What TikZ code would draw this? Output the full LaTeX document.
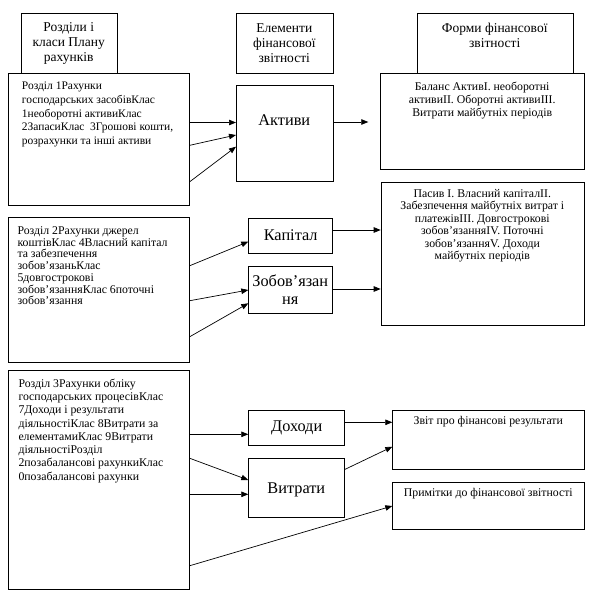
\documentclass[tikz,border=0pt]{standalone}
\usepackage{fontspec}
\setmainfont{Liberation Serif}
\usetikzlibrary{arrows.meta}
\begin{document}
\begin{tikzpicture}[x=1pt,y=-1pt,
  box/.style={draw, line width=0.8pt, fill=white, inner sep=0pt, anchor=north west},
  txt/.style={inner sep=0pt},
  arr/.style={-{Triangle[length=7pt,width=5.5pt]}, line width=0.7pt},
  hdr/.style={txt, align=center, font=\fontsize{13.5}{15}\selectfont},
  body/.style={txt, anchor=north west, align=left},
  elem/.style={txt, align=center, font=\fontsize{16.3}{18.3}\selectfont},
  form/.style={txt, align=center, anchor=north, font=\fontsize{11.8}{13}\selectfont}]
\path[use as bounding box] (0,0) rectangle (597,599);
% headers
\node[box, minimum width=96pt, minimum height=60pt] (h1) at (20.7,13.3) {};
\node[box, minimum width=96.7pt, minimum height=59.4pt] (h2) at (236,13.3) {};
\node[box, minimum width=156pt, minimum height=60pt] (h3) at (416.7,13.3) {};
\node[hdr] (h1t) at (68.7,43.3) {Розділи і\\класи Плану\\рахунків};
\node[hdr] (h2t) at (284.3,43.3) {Елементи\\фінансової\\звітності};
\node[hdr] (h3t) at (494.7,35.8) {Форми фінансової\\звітності};
% left boxes
\node[box, minimum width=180.7pt, minimum height=131.7pt] (b1) at (8.3,73.3) {};
\node[box, minimum width=180.7pt, minimum height=144.4pt] (b2) at (8.3,217.3) {};
\node[box, minimum width=180.7pt, minimum height=219.3pt] (b3) at (8.3,370) {};
\node[body, font=\fontsize{11.5}{13.7}\selectfont] (b1t) at (21.7,82) {Розділ 1Рахунки\\господарських засобівКлас\\1необоротні активиКлас\\2ЗапасиКлас\ \ 3Грошові кошти,\\розрахунки та інші активи};
\node[body, font=\fontsize{11.8}{11.7}\selectfont] (b2t) at (17.3,226.5) {Розділ 2Рахунки джерел\\коштівКлас 4Власний капітал\\та забезпечення\\зобов'язаньКлас\\5довгострокові\\зобов'язанняКлас 6поточні\\зобов'язання};
\node[body, font=\fontsize{11.8}{13.3}\selectfont] (b3t) at (18.3,378.5) {Розділ 3Рахунки обліку\\господарських процесівКлас\\7Доходи і результати\\діяльностіКлас 8Витрати за\\елементамиКлас 9Витрати\\діяльностіРозділ\\2позабалансові рахункиКлас\\0позабалансові рахунки};
% elements
\node[box, minimum width=96.7pt, minimum height=96pt] (akt) at (236,85) {};
\node[box, minimum width=84pt, minimum height=35pt] (kap) at (248.3,217.7) {};
\node[box, minimum width=84pt, minimum height=47.6pt] (zob) at (248.3,265.7) {};
\node[box, minimum width=96pt, minimum height=35pt] (dokh) at (248.3,410) {};
\node[box, minimum width=96pt, minimum height=59pt] (vytr) at (248.3,458.3) {};
\node[elem] (aktt) at (284.3,120) {Активи};
\node[elem] (kapt) at (kap.center) {Капітал};
\node[elem] (zobt) at (290.3,289.5) {Зобов’язан\\ня};
\node[elem] (dokht) at (dokh.center) {Доходи};
\node[elem] (vytrt) at (296.3,490) {Витрати};
% forms
\node[box, minimum width=204.3pt, minimum height=96pt] (bal) at (380,73.3) {};
\node[box, minimum width=203.3pt, minimum height=143.3pt] (pas) at (380.7,181.7) {};
\node[box, minimum width=192pt, minimum height=59.3pt] (zvit) at (392.3,410) {};
\node[box, minimum width=192pt, minimum height=46.7pt] (prym) at (392.3,482.3) {};
\node[form] (balt) at (482.2,81.5) {Баланс АктивІ. необоротні\\активиІІ. Оборотні активиІІІ.\\Витрати майбутніх періодів};
\node[form, font=\fontsize{11.8}{12.5}\selectfont] (past) at (482.3,189) {Пасив І. Власний капіталІІ.\\Забезпечення майбутніх витрат і\\платежівІІІ. Довгострокові\\зобов’язанняIV. Поточні\\зобов’язанняV. Доходи\\майбутніх періодів};
\node[form] (zvitt) at (488.3,416.5) {Звіт про фінансові результати};
\node[form] (prymt) at (488.3,488.5) {Примітки до фінансової звітності};
% connectors
\draw[arr] (b1.east |- 0,122.5) -- (akt.west |- 0,122.5);
\draw[arr] (b1.east |- 0,145.3) -- (akt.west |- 0,135);
\draw[arr] (b1.east |- 0,181.7) -- (akt.west |- 0,146.7);
\draw[arr, shorten >=11.7pt] (akt.east |- 0,122) -- (bal.west |- 0,122);
\draw[arr] (b2.east |- 0,265.7) -- (kap.west |- 0,241.7);
\draw[arr] (b2.east |- 0,300.7) -- (zob.west |- 0,290);
\draw[arr] (b2.east |- 0,336.7) -- (zob.west |- 0,303.3);
\draw[arr] (kap.east |- 0,230) -- (pas.west |- 0,230);
\draw[arr] (zob.east |- 0,289) -- (pas.west |- 0,289);
\draw[arr] (b3.east |- 0,434.3) -- (dokh.west |- 0,434.3);
\draw[arr] (b3.east |- 0,458.3) -- (vytr.west |- 0,480);
\draw[arr] (b3.east |- 0,494.3) -- (vytr.west |- 0,494.3);
\draw[arr] (b3.east |- 0,565.7) -- (prym.west |- 0,506);
\draw[arr] (dokh.east |- 0,422.3) -- (zvit.west |- 0,422.3);
\draw[arr] (vytr.east |- 0,469.3) -- (zvit.west |- 0,446.7);
\end{tikzpicture}
\end{document}
